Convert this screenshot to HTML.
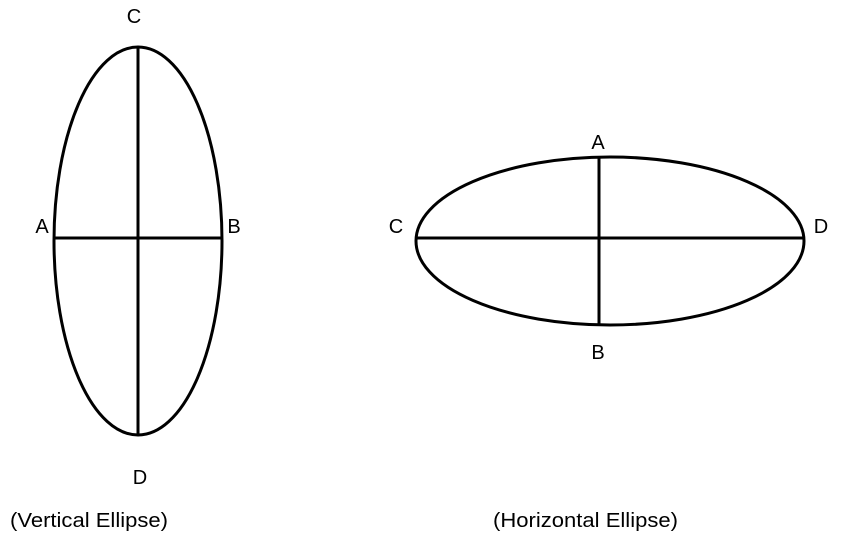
<!DOCTYPE html>
<html><head><style>body{margin:0;background:#fff}svg{display:block}</style></head><body>
<svg width="844" height="541" xmlns="http://www.w3.org/2000/svg" font-family="Liberation Sans, sans-serif" font-size="20" fill="#000">
<g fill="none" stroke="#000" stroke-width="3">
<ellipse cx="138" cy="241" rx="84" ry="194"/>
<line x1="138" y1="47" x2="138" y2="435"/>
<line x1="54" y1="238" x2="222" y2="238"/>
<ellipse cx="610" cy="241" rx="194" ry="84"/>
<line x1="416" y1="238" x2="804" y2="238"/>
<line x1="599" y1="157" x2="599" y2="325"/>
</g>
<text x="134" y="23" text-anchor="middle">C</text>
<text x="42" y="233" text-anchor="middle">A</text>
<text x="234" y="233" text-anchor="middle">B</text>
<text x="140" y="484" text-anchor="middle">D</text>
<text x="598" y="149" text-anchor="middle">A</text>
<text x="396" y="233" text-anchor="middle">C</text>
<text x="821" y="233" text-anchor="middle">D</text>
<text x="598" y="359" text-anchor="middle">B</text>
<text x="10" y="527" textLength="158" lengthAdjust="spacingAndGlyphs">(Vertical Ellipse)</text>
<text x="493" y="527" textLength="185" lengthAdjust="spacingAndGlyphs">(Horizontal Ellipse)</text>
</svg>
</body></html>
